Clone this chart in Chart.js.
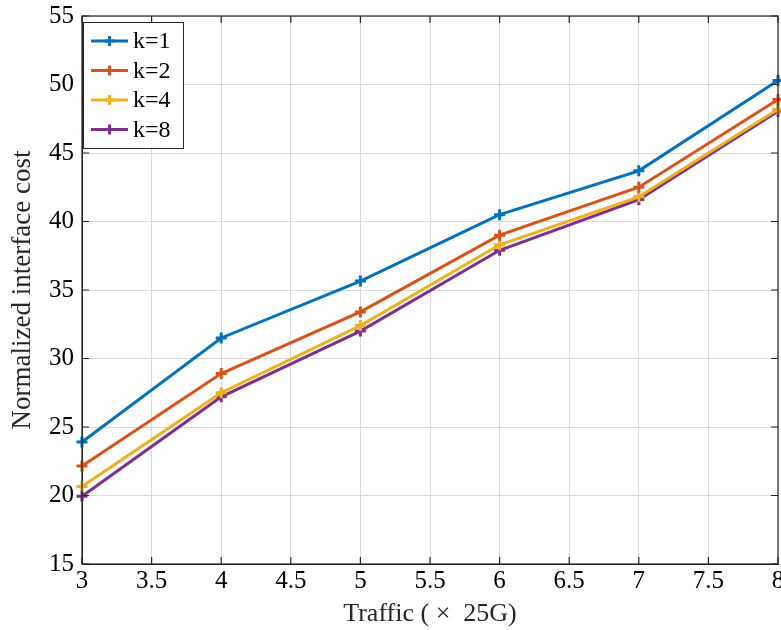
<!DOCTYPE html>
<html>
<head>
<meta charset="utf-8">
<script src="https://cdn.jsdelivr.net/npm/chart.js@4"></script>
<style>
  body { margin: 0; background: #fff; }
  #wrap { width: 781px; height: 630px; }
</style>
</head>
<body>
<div id="wrap"><canvas id="myChart" width="781" height="630"></canvas></div>
<script>
var traffic = [3, 4, 5, 6, 7, 8];
var k1 = [23.9, 31.5, 35.65, 40.5, 43.7, 50.3];
var k2 = [22.15, 28.9, 33.4, 39.0, 42.5, 48.9];
var k4 = [20.65, 27.5, 32.4, 38.3, 41.8, 48.2];
var k8 = [19.95, 27.2, 32.0, 37.9, 41.6, 48.05];
var seriesLabels = ["k=1", "k=2", "k=4", "k=8"];
var colors = ["#0072BD", "#D95319", "#EDB120", "#7E2F8E"];

function pts(vals) {
  return vals.map(function (v, i) { return { x: traffic[i], y: v }; });
}

var font = "'Liberation Serif', 'DejaVu Serif', serif";

// box, inward ticks and legend like the original figure
var boxPlugin = {
  id: "boxPlugin",
  afterDraw: function (chart) {
    var c = chart.ctx, a = chart.chartArea;
    var xs = chart.scales.x, ys = chart.scales.y;
    c.save();
    c.strokeStyle = "#262626";
    c.lineWidth = 1.2;
    c.strokeRect(a.left, a.top, a.right - a.left, a.bottom - a.top);
    c.beginPath();
    xs.ticks.forEach(function (t) {
      var px = xs.getPixelForValue(t.value);
      c.moveTo(px, a.bottom); c.lineTo(px, a.bottom - 7);
      c.moveTo(px, a.top); c.lineTo(px, a.top + 7);
    });
    ys.ticks.forEach(function (t) {
      var py = ys.getPixelForValue(t.value);
      c.moveTo(a.left, py); c.lineTo(a.left + 7, py);
      c.moveTo(a.right, py); c.lineTo(a.right - 7, py);
    });
    c.stroke();

    // legend
    var lx = a.left + 1, ly = a.top + 6, lw = 100, lh = 126;
    c.fillStyle = "#fff";
    c.fillRect(lx, ly, lw, lh);
    c.strokeStyle = "#262626";
    c.lineWidth = 1;
    c.strokeRect(lx + 0.5, ly + 0.5, lw, lh);
    c.font = "24px " + font;
    c.textBaseline = "middle";
    chart.data.datasets.forEach(function (ds, i) {
      var y = ly + 19 + i * 29.5;
      c.strokeStyle = ds.borderColor;
      c.lineWidth = 3;
      c.beginPath();
      c.moveTo(lx + 8, y); c.lineTo(lx + 45, y);
      c.stroke();
      c.beginPath();
      c.moveTo(lx + 26.5 - 5, y); c.lineTo(lx + 26.5 + 5, y);
      c.moveTo(lx + 26.5, y - 5); c.lineTo(lx + 26.5, y + 5);
      c.stroke();
      c.fillStyle = "#000";
      c.fillText(ds.label, lx + 50, y + 1);
    });
    c.restore();
  }
};

var ctx = document.getElementById("myChart").getContext("2d");
var chart = new Chart(ctx, {
  type: "line",
  data: {
    datasets: [k1, k2, k4, k8].map(function (vals, i) {
      return {
        label: seriesLabels[i],
        data: pts(vals),
        borderColor: colors[i],
        backgroundColor: colors[i],
        borderWidth: 3,
        pointStyle: "cross",
        pointRadius: 5.5,
        pointBorderWidth: 3,
        tension: 0,
        fill: false,
        clip: 8
      };
    })
  },
  options: {
    responsive: false,
    animation: false,
    layout: { autoPadding: false, padding: { top: 16, right: 3, left: 0, bottom: 0 } },
    plugins: { legend: { display: false }, tooltip: { enabled: false } },
    scales: {
      x: {
        type: "linear",
        min: 3,
        max: 8,
        ticks: {
          stepSize: 0.5, padding: 2, color: "#000", maxRotation: 0,
          font: { family: font, size: 25 },
          callback: function (v) { return String(v); }
        },
        grid: { color: "#d9d9d9", lineWidth: 1, drawTicks: false },
        border: { color: "#262626" },
        title: { display: true, text: "Traffic ( \u00d7  25G)", color: "#262626", font: { family: font, size: 26 }, padding: { top: 2, bottom: 0 } },
        afterFit: function (s) { s.height = 66; s.paddingLeft = 0; s.paddingRight = 0; }
      },
      y: {
        min: 15,
        max: 55,
        ticks: { stepSize: 5, padding: 8, color: "#000", font: { family: font, size: 25 } },
        grid: { color: "#d9d9d9", lineWidth: 1, drawTicks: false },
        border: { color: "#262626" },
        title: { display: true, text: "Normalized interface cost", color: "#262626", font: { family: font, size: 27 }, padding: { top: 7, bottom: 0 } },
        afterFit: function (s) { s.width = 82; s.paddingTop = 0; s.paddingBottom = 0; }
      }
    }
  },
  plugins: [boxPlugin]
});
</script>
</body>
</html>
